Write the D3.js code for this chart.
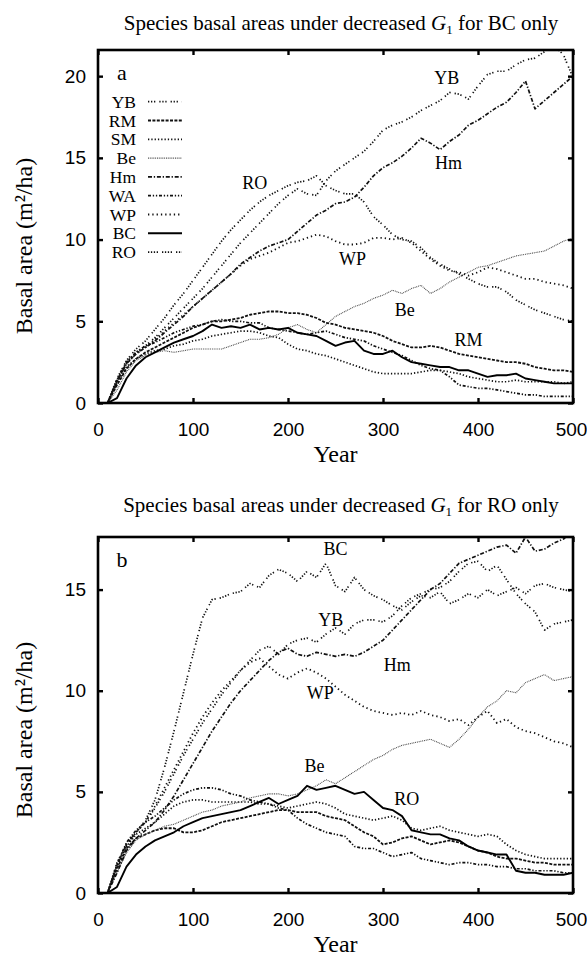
<!DOCTYPE html>
<html>
<head>
<meta charset="utf-8">
<script src="https://cdn.jsdelivr.net/npm/d3@7"></script>
<style>
  html, body { margin: 0; padding: 0; background: #fff; }
  svg { display: block; font-family: 'Liberation Serif', 'Times New Roman', serif; }
</style>
</head>
<body>
<svg id="chart" width="587" height="958"></svg>
<script>
// simulation years (every 10 yr)
const years = [10,20,30,40,50,60,70,80,90,100,110,120,130,140,150,160,170,180,190,200,
  210,220,230,240,250,260,270,280,290,300,310,320,330,340,350,360,370,380,390,400,
  410,420,430,440,450,460,470,480,490,500]
const species = ['YB', 'RM', 'SM', 'Be', 'Hm', 'WA', 'WP', 'BC', 'RO']
const xTicks = [0, 100, 200, 300, 400, 500]
const yTicksA = [0, 5, 10, 15, 20]
const yTicksB = [0, 5, 10, 15]

// panel a: decreased G1 for BC only (basal area m2/ha)
const aYB = [0,1.4,2.5,3.1,3.5,4.0,4.6,5.2,5.8,6.4,7.0,7.7,8.4,9.1,9.8,10.4,11.0,11.6,12.2,12.7,
  13.1,12.8,12.7,13.6,14.2,14.6,15.0,15.4,16.0,16.7,17.0,17.2,17.5,17.9,18.2,18.5,19.0,18.9,18.6,19.4,
  20.1,20.3,20.3,20.7,21.0,21.1,21.5,21.9,21.3,19.9]
const aRM = [0,1.1,2.1,2.7,3.1,3.4,3.7,4.0,4.3,4.6,4.8,5.0,5.0,5.1,5.2,5.4,5.5,5.6,5.6,5.5,
  5.5,5.4,5.2,4.9,4.8,4.6,4.5,4.4,4.3,4.1,3.8,3.6,3.4,3.4,3.5,3.4,3.2,3.0,2.9,2.8,
  2.7,2.6,2.5,2.5,2.4,2.2,2.1,2.0,2.0,1.9]
const aSM = [0,1.2,2.2,2.7,3.0,3.2,3.3,3.5,3.6,3.8,3.9,4.1,4.2,4.3,4.4,4.4,4.3,4.1,4.0,3.6,
  3.3,3.2,3.0,2.9,2.7,2.5,2.3,2.1,1.9,1.8,1.8,1.8,1.8,1.9,2.0,2.0,1.9,1.8,1.6,1.5,
  1.4,1.3,1.3,1.4,1.3,1.3,1.3,1.3,1.2,1.3]
const aBe = [0,0.8,1.9,2.6,2.9,3.1,3.2,3.1,3.2,3.3,3.3,3.3,3.3,3.5,3.7,3.9,3.9,4.0,4.2,4.6,
  4.8,4.5,4.3,4.8,5.3,5.6,5.9,6.1,6.4,6.6,6.9,6.7,7.0,7.2,6.7,7.0,7.4,7.7,8.0,8.3,
  8.4,8.6,8.8,9.0,9.1,9.2,9.3,9.6,9.9,10.1]
const aHm = [0,1.3,2.4,3.0,3.4,3.8,4.3,4.8,5.3,5.9,6.4,6.9,7.4,7.9,8.5,8.9,9.3,9.6,9.8,10.0,
  10.5,11.0,11.5,11.8,12.2,12.3,12.6,13.2,13.9,14.4,14.7,15.1,15.6,16.2,15.9,15.5,16.0,16.4,17.0,17.3,
  17.7,18.1,18.4,19.0,19.7,18.0,18.5,19.0,19.5,20.0]
const aWA = [0,1.4,2.5,3.1,3.5,3.7,4.0,4.3,4.5,4.7,4.8,5.0,5.1,5.0,5.0,4.9,4.9,4.6,4.5,4.4,
  4.3,4.2,4.3,4.4,4.2,4.0,3.9,3.8,3.5,3.3,3.1,2.9,2.6,2.3,2.1,2.0,1.6,1.1,1.0,0.9,
  0.9,0.8,0.7,0.6,0.5,0.5,0.4,0.4,0.4,0.4]
const aWP = [0,1.3,2.4,3.0,3.4,3.9,4.4,4.9,5.4,5.9,6.4,6.9,7.4,7.9,8.4,8.8,9.0,9.2,9.5,9.8,
  9.9,10.1,10.3,10.2,9.9,9.7,9.7,9.8,10.1,10.1,10.0,10.1,9.8,9.3,8.8,8.4,8.1,8.0,7.8,8.0,
  8.3,8.2,8.0,7.8,7.6,7.6,7.4,7.3,7.2,7.0]
const aBC = [0,0.3,1.5,2.3,2.8,3.1,3.4,3.7,3.9,4.1,4.4,4.8,4.6,4.7,4.6,4.8,4.5,4.6,4.5,4.6,
  4.3,4.2,4.1,3.8,3.5,3.7,3.8,3.2,3.0,3.0,3.2,2.8,2.5,2.4,2.3,2.2,2.2,2.0,2.0,1.8,
  1.6,1.7,1.7,1.8,1.5,1.4,1.3,1.2,1.2,1.2]
const aRO = [0,1.5,2.6,3.3,3.8,4.5,5.2,6.0,6.7,7.5,8.3,9.1,9.9,10.6,11.2,11.8,12.3,12.7,13.0,13.3,
  13.5,13.6,13.9,13.3,13.0,12.8,12.8,12.3,11.4,10.9,10.3,10.0,9.9,9.5,8.9,8.5,8.2,7.9,7.6,7.3,
  7.1,7.1,6.8,6.3,6.0,5.7,5.5,5.3,5.1,5.0]

// panel b: decreased G1 for RO only
const bYB = [0,1.4,2.4,3.0,3.5,4.2,5.0,5.9,6.8,7.6,8.4,9.1,9.8,10.4,11.0,11.5,12.0,12.2,11.8,12.3,
  12.5,12.6,12.4,12.8,13.1,12.8,13.3,13.5,13.5,13.4,13.7,14.2,14.6,14.8,15.0,15.1,15.4,15.9,16.3,16.4,
  15.9,16.2,15.5,14.8,14.3,13.9,13.0,13.3,13.4,13.5]
const bRM = [0,1.2,2.2,2.7,2.9,3.1,3.2,3.2,3.0,3.0,3.1,3.3,3.5,3.6,3.7,3.8,3.9,4.0,4.1,4.1,
  4.0,4.0,4.0,3.8,3.7,3.6,3.3,3.0,2.8,2.4,2.5,2.7,2.8,2.6,2.4,2.5,2.6,2.5,2.3,2.1,
  2.0,1.8,1.7,1.7,1.6,1.5,1.5,1.4,1.4,1.4]
const bSM = [0,1.3,2.3,2.9,3.2,3.5,3.9,4.3,4.5,4.6,4.6,4.5,4.5,4.5,4.5,4.5,4.4,4.4,4.3,4.2,
  4.3,4.4,4.5,4.4,4.2,3.9,3.8,3.7,3.6,3.7,3.8,3.6,3.2,3.1,3.2,3.3,3.1,3.0,2.9,2.8,
  2.9,2.8,2.4,2.1,1.9,1.8,1.7,1.7,1.7,1.7]
const bBe = [0,1.0,2.0,2.6,2.9,3.1,3.3,3.4,3.6,3.8,4.0,4.1,4.3,4.4,4.5,4.7,4.8,4.9,4.9,4.8,
  4.9,5.1,5.3,5.6,5.4,5.7,6.0,6.3,6.6,6.8,7.1,7.3,7.4,7.5,7.6,7.4,7.2,7.6,8.1,8.7,
  9.2,9.5,10.0,9.9,10.4,10.6,10.8,10.5,10.6,10.7]
const bHm = [0,1.0,2.1,2.7,3.1,3.5,4.1,4.8,5.6,6.4,7.2,8.0,8.7,9.4,10.0,10.5,11.0,11.5,11.9,12.1,
  11.8,11.7,11.9,11.8,11.7,11.8,11.7,11.9,12.2,12.5,13.0,13.5,14.0,14.5,15.0,15.3,15.8,16.3,16.5,16.7,
  16.9,17.1,17.2,16.8,17.6,16.9,17.0,17.3,17.5,17.9]
const bWA = [0,1.4,2.5,3.1,3.5,3.8,4.2,4.6,4.9,5.1,5.2,5.2,5.1,4.9,4.8,4.6,4.5,4.4,4.2,4.1,
  3.7,3.4,3.2,3.0,2.9,2.8,2.3,2.2,2.2,2.0,1.8,1.9,2.0,1.7,1.6,1.5,1.4,1.5,1.5,1.4,
  1.4,1.3,1.3,1.2,1.2,1.1,1.1,1.1,1.0,1.0]
const bWP = [0,1.4,2.4,3.0,3.5,4.3,5.2,6.1,7.0,7.9,8.7,9.4,10.0,10.5,11.0,11.4,11.6,11.2,10.8,10.6,
  10.9,11.1,10.9,10.6,10.2,9.8,9.5,9.2,9.0,8.9,8.8,8.9,8.8,9.0,8.8,8.7,8.5,8.6,8.3,8.7,
  9.0,8.4,8.6,8.2,8.0,7.9,7.7,7.5,7.4,7.2]
const bBC = [0,1.5,2.4,3.0,3.6,4.6,6.2,8.0,9.9,11.8,13.6,14.5,14.6,14.8,14.9,15.3,15.1,15.7,16.0,15.8,
  15.4,15.9,15.6,16.3,15.2,14.9,15.6,15.0,14.7,14.5,14.2,14.0,14.4,14.7,14.6,14.9,14.3,14.5,14.8,14.6,
  15.0,14.7,14.9,15.1,14.8,15.2,15.3,15.1,15.0,14.9]
const bRO = [0,0.3,1.3,1.9,2.3,2.6,2.8,3.0,3.3,3.5,3.7,3.8,3.9,4.0,4.1,4.3,4.5,4.7,4.4,4.6,
  4.8,5.3,5.1,5.2,5.3,5.1,4.9,5.0,4.6,4.2,4.1,3.8,3.1,3.0,2.9,2.9,2.7,2.6,2.3,2.1,
  2.0,1.9,1.9,1.1,1.0,1.0,0.9,0.9,0.9,1.0]

// curve labels inside the plots: [name, year, basal area]
const labelsA = [['YB', 367, 19.9], ['Hm', 369, 14.7], ['RO', 165, 13.5], ['WP', 268, 8.8], ['Be', 323, 5.7], ['RM', 390, 3.85]]
const labelsB = [['BC', 250, 17.0], ['YB', 245, 13.5], ['Hm', 315, 11.3], ['WP', 234, 9.9], ['Be', 228, 6.3], ['RO', 325, 4.65]]

const svg = d3.select('#chart')
const LEFT = 98
const RIGHT = 573

// line styles per species (legend of panel a)
const lineStyles = {
  YB: { dash: '1.3,1.7,1.3,1.7,1.3,4', width: 1.7, color: '#111' },
  RM: { dash: '3,1.4', width: 1.8, color: '#111' },
  SM: { dash: '1.3,2', width: 1.7, color: '#111' },
  Be: { dash: '0.9,0.9', width: 1.1, color: '#444' },
  Hm: { dash: '4,1.8,1.3,1.8', width: 1.7, color: '#111' },
  WA: { dash: '3,1.8,1.3,1.8,1.3,1.8', width: 1.7, color: '#111' },
  WP: { dash: '1.3,3', width: 1.8, color: '#111' },
  BC: { dash: null, width: 1.9, color: '#000' },
  RO: { dash: '1.3,1.6,1.3,1.6,1.3,1.6,1.3,4', width: 1.7, color: '#111' },
}
// in panel b the reduced species (RO) is drawn solid
const lineStylesB = Object.assign({}, lineStyles, { BC: lineStyles.RO, RO: lineStyles.BC })

function drawTitle(y, who) {
  const t = svg.append('text')
    .attr('x', 341)
    .attr('y', y)
    .attr('text-anchor', 'middle')
    .style('font-size', '21px')
  t.append('tspan').text('Species basal areas under decreased ')
  t.append('tspan').style('font-style', 'italic').text('G')
  t.append('tspan').attr('dy', 4).style('font-size', '13px').text('1')
  t.append('tspan').attr('dy', -4).text(` for ${who} only`)
}

function drawPanel(config) {
  const { id, top, bottom, yMax, yTicks, series, styles, labels, tag, legend, yLabelY } = config

  const x = d3.scaleLinear().domain([0, 500]).range([LEFT, RIGHT])
  const y = d3.scaleLinear().domain([0, yMax]).range([bottom, top])
  const g = svg.append('g').attr('class', 'panel-' + id)

  g.append('clipPath')
    .attr('id', 'clip-' + id)
    .append('rect')
    .attr('x', LEFT)
    .attr('y', top)
    .attr('width', RIGHT - LEFT)
    .attr('height', bottom - top)

  // Species lines
  const line = d3.line()
    .x((d, i) => x(years[i]))
    .y((d) => y(d))

  g.append('g')
    .attr('clip-path', `url(#clip-${id})`)
    .selectAll('path')
    .data(species)
    .join('path')
    .attr('d', (name) => line(series[name]))
    .attr('fill', 'none')
    .attr('stroke', (name) => styles[name].color)
    .attr('stroke-width', (name) => styles[name].width)
    .attr('stroke-dasharray', (name) => styles[name].dash)
    .attr('stroke-linejoin', 'round')

  // Axes with inward ticks on all four sides
  const tickStyle = (sel) => {
    sel.select('.domain').remove()
    sel.selectAll('.tick line').attr('stroke-width', 2.4)
    sel.selectAll('.tick text').style('font-size', '19px').attr('fill', '#000')
  }
  g.append('g')
    .attr('transform', `translate(0,${bottom})`)
    .call(d3.axisBottom(x).tickValues(xTicks).tickSizeInner(-5).tickSizeOuter(0).tickPadding(20))
    .call(tickStyle)
    .selectAll('.tick text')
    .filter((d) => d === 500)
    .attr('dx', -2)   // keep the last label inside the picture
  g.append('g')
    .attr('transform', `translate(0,${top})`)
    .call(d3.axisTop(x).tickValues(xTicks).tickSizeInner(-5).tickSizeOuter(0).tickFormat(''))
    .call(tickStyle)
  g.append('g')
    .attr('transform', `translate(${LEFT},0)`)
    .call(d3.axisLeft(y).tickValues(yTicks).tickSizeInner(-5).tickSizeOuter(0).tickPadding(12))
    .call(tickStyle)
  g.append('g')
    .attr('transform', `translate(${RIGHT},0)`)
    .call(d3.axisRight(y).tickValues(yTicks).tickSizeInner(-5).tickSizeOuter(0).tickFormat(''))
    .call(tickStyle)
  g.selectAll('.tick text').attr('font-family', null)

  // Frame
  g.append('rect')
    .attr('x', LEFT)
    .attr('y', top)
    .attr('width', RIGHT - LEFT)
    .attr('height', bottom - top)
    .attr('fill', 'none')
    .attr('stroke', '#000')
    .attr('stroke-width', 2.6)

  // Axis titles
  g.append('text')
    .attr('x', (LEFT + RIGHT) / 2)
    .attr('y', bottom + 59)
    .attr('text-anchor', 'middle')
    .style('font-size', '24px')
    .text('Year')
  g.append('text')
    .attr('transform', `translate(32,${yLabelY}) rotate(-90)`)
    .attr('text-anchor', 'middle')
    .style('font-size', '24px')
    .text('Basal area (m²/ha)')

  // Panel letter
  g.append('text')
    .attr('x', 122)
    .attr('y', top + 22)
    .attr('dy', '0.35em')
    .attr('text-anchor', 'middle')
    .style('font-size', '22px')
    .text(tag)

  // Curve labels
  g.selectAll('text.curve-label')
    .data(labels)
    .join('text')
    .attr('class', 'curve-label')
    .attr('x', (d) => x(d[1]))
    .attr('y', (d) => y(d[2]))
    .attr('dy', '0.35em')
    .attr('text-anchor', 'middle')
    .style('font-size', '18px')
    .text((d) => d[0])

  if (!legend) return
  // Legend (panel a only)
  const rows = g.append('g').selectAll('g').data(species).join('g')
    .attr('transform', (d, i) => `translate(0,${101.7 + i * 18.8})`)
  rows.append('text')
    .attr('x', 136)
    .attr('dy', '0.35em')
    .attr('text-anchor', 'end')
    .style('font-size', '17.5px')
    .text((d) => d)
  rows.append('line')
    .attr('x1', 148)
    .attr('x2', 182)
    .attr('stroke', (d) => styles[d].color)
    .attr('stroke-width', (d) => styles[d].width)
    .attr('stroke-dasharray', (d) => styles[d].dash)
}

drawTitle(30, 'BC')
drawPanel({
  id: 'a',
  top: 50,
  bottom: 403,
  yMax: 21.6,
  yTicks: yTicksA,
  series: { YB: aYB, RM: aRM, SM: aSM, Be: aBe, Hm: aHm, WA: aWA, WP: aWP, BC: aBC, RO: aRO },
  styles: lineStyles,
  labels: labelsA,
  tag: 'a',
  legend: true,
  yLabelY: 246,
})

drawTitle(512, 'RO')
drawPanel({
  id: 'b',
  top: 537,
  bottom: 893,
  yMax: 17.6,
  yTicks: yTicksB,
  series: { YB: bYB, RM: bRM, SM: bSM, Be: bBe, Hm: bHm, WA: bWA, WP: bWP, BC: bBC, RO: bRO },
  styles: lineStylesB,
  labels: labelsB,
  tag: 'b',
  legend: false,
  yLabelY: 730,
})
</script>
</body>
</html>
